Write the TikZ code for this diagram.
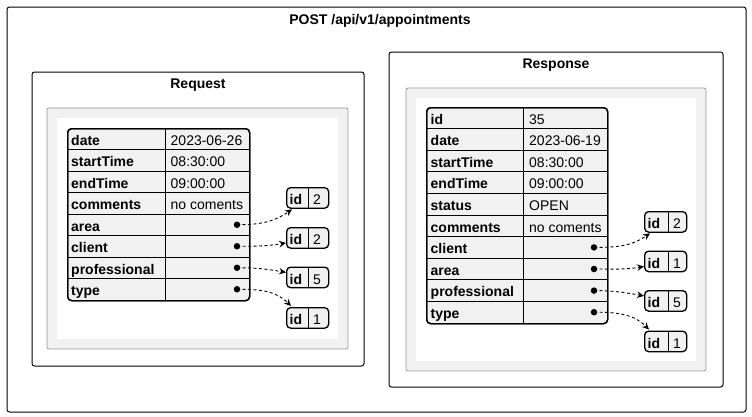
\documentclass[tikz,border=0pt]{standalone}
\usepackage{fontspec}
\setmainfont{Liberation Sans}
\usetikzlibrary{arrows.meta}
\definecolor{cellgray}{HTML}{F1F1F1}
\definecolor{framegray}{HTML}{999999}
\tikzset{
  frame/.style={draw=black, line width=1pt, rounded corners=2.5pt},
  grayframe/.style={draw=framegray, fill=cellgray, line width=0.8pt, rounded corners=2pt},
  whitearea/.style={fill=white, draw=none},
  tablebox/.style={draw=black, fill=cellgray, line width=1.3pt, rounded corners=4pt, inner sep=0pt},
  rowline/.style={draw=black, line width=0.9pt},
  idbox/.style={draw=black, fill=cellgray, line width=1.3pt, rounded corners=4pt, inner sep=0pt, minimum width=42pt, minimum height=20.5pt, anchor=north west},
  titletext/.style={font=\fontsize{14}{16}\selectfont\bfseries, inner sep=0pt, anchor=base},
  keytext/.style={font=\fontsize{14}{16}\selectfont\bfseries, inner sep=0pt, anchor=base west},
  valtext/.style={font=\fontsize{14}{16}\selectfont, inner sep=0pt, anchor=base west},
  dotnode/.style={circle, fill=black, inner sep=0pt, minimum size=6.5pt},
  refarrow/.style={draw=black, line width=0.9pt, dash pattern=on 3pt off 2.5pt, -{Stealth[length=7pt, width=6.5pt, inset=2.5pt]}},
}
\begin{document}
\begin{tikzpicture}[x=1pt, y=-1pt]
\useasboundingbox (0,0) rectangle (752,416);
% outer
\draw[frame] (7,7) rectangle (746,412);
\node[titletext] (title) at (380,24.5) {POST /api/v1/appointments};

% ---------------- Request ----------------
\draw[frame] (32,72) rectangle (364,366);
\node[titletext] (reqtitle) at (198,88) {Request};
\draw[grayframe] (47,108) rectangle (348,349);
\fill[whitearea] (57,118) rectangle (338,339);
\node[tablebox, minimum width=182pt, minimum height=172pt, anchor=north west] (reqT) at (67,128) {};
\foreach \i in {1,...,7} { \draw[rowline] (67,{128+21.5*\i}) -- (249,{128+21.5*\i}); }
\draw[rowline] (165,128) -- (165,300);
\node[tablebox, draw, fill=none, minimum width=182pt, minimum height=172pt, anchor=north west] at (67,128) {};
\foreach \k [count=\i] in {date,startTime,endTime,comments,area,client,professional,type} {
  \node[keytext] (reqk\i) at (71,{128+21.5*(\i-1)+17}) {\k};
}
\foreach \v [count=\i] in {2023-06-26,08:30:00,09:00:00,no coments} {
  \node[valtext] (reqv\i) at (170.5,{128+21.5*(\i-1)+17}) {\v};
}
\foreach \i in {5,...,8} {
  \node[dotnode] (reqd\i) at (237,{128+21.5*(\i-0.5)}) {};
}
% id boxes
\foreach \y/\v [count=\i] in {187/2,227/2,266.5/5,307/1} {
  \node[idbox] (reqid\i) at (286,\y) {};
  \draw[rowline] (308,\y) -- (308,\y+20.5);
  \node[keytext] (reqidk\i) at (289.5,\y+17.5) {id};
  \node[valtext] (reqidv\i) at (313,\y+17.5) {\v};
}
\draw[refarrow] (reqd5.center) to[out=0, in=215] ([xshift=6pt,yshift=-0.5pt]reqid1.south west);
\draw[refarrow] (reqd6.center) to[out=0, in=190] ([yshift=-5pt]reqid2.west);
\draw[refarrow] (reqd7.center) to[out=0, in=170] ([yshift=5pt]reqid3.west);
\draw[refarrow] (reqd8.center) to[out=0, in=135] ([xshift=5pt,yshift=1pt]reqid4.north west);

% ---------------- Response ----------------
\draw[frame] (389,52) rectangle (723,387);
\node[titletext] (restitle) at (556,68) {Response};
\draw[grayframe] (406,88) rectangle (706,371);
\fill[whitearea] (416,98) rectangle (696,361);
\node[tablebox, minimum width=181pt, minimum height=216pt, anchor=north west] (resT) at (426,107) {};
\foreach \i in {1,...,9} { \draw[rowline] (426,{107+21.6*\i}) -- (607,{107+21.6*\i}); }
\draw[rowline] (523,107) -- (523,323);
\node[tablebox, draw, fill=none, minimum width=181pt, minimum height=216pt, anchor=north west] at (426,107) {};
\foreach \k [count=\i] in {id,date,startTime,endTime,status,comments,client,area,professional,type} {
  \node[keytext] (resk\i) at (430.5,{107+21.6*(\i-1)+17}) {\k};
}
\foreach \v [count=\i] in {35,2023-06-19,08:30:00,09:00:00,OPEN,no coments} {
  \node[valtext] (resv\i) at (529,{107+21.6*(\i-1)+17}) {\v};
}
\foreach \i in {7,...,10} {
  \node[dotnode] (resd\i) at (594,{107+21.6*(\i-0.5)}) {};
}
\foreach \y/\v [count=\i] in {211/2,250.5/1,290/5,330.5/1} {
  \node[idbox] (resid\i) at (644,\y) {};
  \draw[rowline] (668,\y) -- (668,\y+20.5);
  \node[keytext] (residk\i) at (647.5,\y+17.5) {id};
  \node[valtext] (residv\i) at (673,\y+17.5) {\v};
}
\draw[refarrow] (resd7.center) to[out=0, in=215] ([xshift=6pt,yshift=-0.5pt]resid1.south west);
\draw[refarrow] (resd8.center) to[out=0, in=190] ([yshift=-5pt]resid2.west);
\draw[refarrow] (resd9.center) to[out=0, in=170] ([yshift=5pt]resid3.west);
\draw[refarrow] (resd10.center) to[out=0, in=135] ([xshift=5pt,yshift=1pt]resid4.north west);
\end{tikzpicture}
\end{document}
